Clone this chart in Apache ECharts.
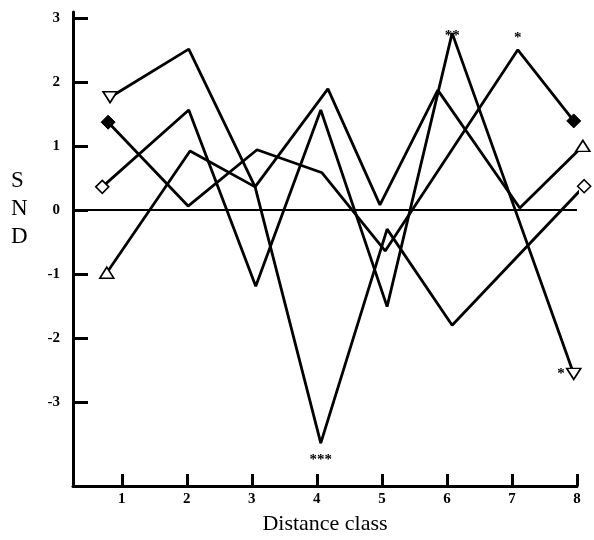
<!DOCTYPE html>
<html>
<head>
<meta charset="utf-8">
<title>SND by distance class</title>
<script src="https://cdn.jsdelivr.net/npm/echarts@6/dist/echarts.min.js"></script>
<style>
  html, body { margin: 0; padding: 0; background: #fff; }
  #chart { width: 594px; height: 540px; }
</style>
</head>
<body>
<div id="chart"></div>
<script>
// axis ticks
const classTicks = [1, 2, 3, 4, 5, 6, 7, 8]
const sndTicks = [-3, -2, -1, 0, 1, 2, 3]

// profiles: x = distance class position, y = SND
// marker at each end, significance stars on some points
const p1X = [0.82, 2.03, 3.05, 4.17, 4.97, 5.86, 7.12, 8.09]
const p1Y = [1.76, 2.51, 0.36, 1.89, 0.08, 1.87, 0.03, 1.00]
const p1Ends = ['downTri', 'upTri']
const p1Sig = ['', '', '', '', '', '', '', '']

const p2X = [0.79, 2.02, 3.08, 4.08, 5.05, 7.09, 7.95]
const p2Y = [1.37, 0.06, 0.94, 0.58, -0.64, 2.50, 1.39]
const p2Ends = ['filledDiamond', 'filledDiamond']
const p2Sig = ['', '', '', '', '', '*', '']

const p3X = [0.70, 2.03, 3.06, 4.06, 5.08, 6.08, 7.95]
const p3Y = [0.36, 1.56, -1.19, 1.56, -1.51, 2.76, -2.56]
const p3Ends = ['diamond', 'downTri']
const p3Sig = ['', '', '', '', '', '**', '*']

const p4X = [0.77, 2.05, 3.05, 4.06, 5.08, 6.08, 8.11]
const p4Y = [-0.98, 0.92, 0.36, -3.64, -0.30, -1.80, 0.37]
const p4Ends = ['upTri', 'diamond']
const p4Sig = ['', '', '', '***', '', '', '']

const serif = '"Liberation Serif", "DejaVu Serif", serif'

const markerStyle = (kind) => {
  const open = { color: '#fff', borderColor: '#000', borderWidth: 1.6 }
  if (kind === 'downTri') return { symbol: 'triangle', symbolRotate: 180, symbolSize: [14, 11], itemStyle: open }
  if (kind === 'upTri') return { symbol: 'triangle', symbolRotate: 0, symbolSize: [14, 11], itemStyle: open }
  if (kind === 'diamond') return { symbol: 'diamond', symbolSize: [13, 13], itemStyle: open }
  return { symbol: 'diamond', symbolSize: [14, 14], itemStyle: { color: '#000', borderColor: '#000', borderWidth: 1 } }
}

// the stars sit in slightly different spots in the original
const starGap = { '**': -11, '*': 4, '***': 9 }

const buildData = (xs, ys, ends, sig) => xs.map((x, i) => {
  const item = { value: [x, ys[i]], symbol: 'none' }
  if (sig[i]) {
    // tiny symbol so the star label has something to hang on
    let pos = 'top'
    if (i === xs.length - 1) pos = 'left'
    else if (ys[i] < ys[i - 1] && ys[i] < ys[i + 1]) pos = 'bottom'
    item.symbol = 'circle'
    item.symbolSize = 1
    item.label = {
      show: true,
      formatter: sig[i],
      position: pos,
      distance: pos === 'left' ? 1 : starGap[sig[i]],
      color: '#000',
      fontFamily: serif,
      fontWeight: 'bold',
      fontSize: 15
    }
  }
  if (i === 0) Object.assign(item, markerStyle(ends[0]))
  if (i === xs.length - 1) Object.assign(item, markerStyle(ends[1]))
  return item
})

const profiles = [
  [p1X, p1Y, p1Ends, p1Sig],
  [p2X, p2Y, p2Ends, p2Sig],
  [p3X, p3Y, p3Ends, p3Sig],
  [p4X, p4Y, p4Ends, p4Sig]
]

const series = profiles.map((p, k) => ({
  type: 'line',
  data: buildData(p[0], p[1], p[2], p[3]),
  symbol: 'circle',
  showSymbol: true,
  clip: false,
  z: 3,
  lineStyle: { color: '#000', width: 2.8 },
  itemStyle: { color: '#000' },
  labelLayout: { hideOverlap: false },
  markLine: k === 0 ? {
    silent: true,
    symbol: 'none',
    label: { show: false },
    lineStyle: { color: '#000', width: 2, type: 'solid' },
    data: [{ yAxis: 0 }]
  } : undefined
}))

const chart = echarts.init(document.getElementById('chart'))
chart.setOption({
  animation: false,
  backgroundColor: '#fff',
  grid: { left: 73, right: 17, top: 12, bottom: 54, outerBoundsMode: 'none' },
  xAxis: {
    type: 'value',
    min: 0.25,
    max: 8,
    name: 'Distance class',
    nameLocation: 'middle',
    nameGap: 27,
    nameTextStyle: { fontFamily: serif, fontSize: 22, color: '#000' },
    axisLine: { onZero: false, lineStyle: { color: '#000', width: 3 } },
    axisTick: { inside: true, length: 12, lineStyle: { color: '#000', width: 3 }, customValues: classTicks },
    axisLabel: { customValues: classTicks, margin: 6, color: '#000', fontFamily: serif, fontWeight: 'bold', fontSize: 15 },
    splitLine: { show: false }
  },
  yAxis: {
    type: 'value',
    min: -4.31,
    max: 3.09,
    axisLine: { show: true, onZero: false, lineStyle: { color: '#000', width: 3 } },
    axisTick: { show: true, inside: true, length: 15, lineStyle: { color: '#000', width: 3 }, customValues: sndTicks },
    axisLabel: { customValues: sndTicks, margin: 13, color: '#000', fontFamily: serif, fontWeight: 'bold', fontSize: 15 },
    splitLine: { show: false }
  },
  graphic: [{
    type: 'text',
    left: 11,
    top: 167,
    style: { text: 'S\nN\nD', fontFamily: serif, fontSize: 23, lineHeight: 28, fill: '#000', align: 'center' }
  }],
  series: series
})

window.addEventListener('resize', () => chart.resize())
</script>
</body>
</html>
